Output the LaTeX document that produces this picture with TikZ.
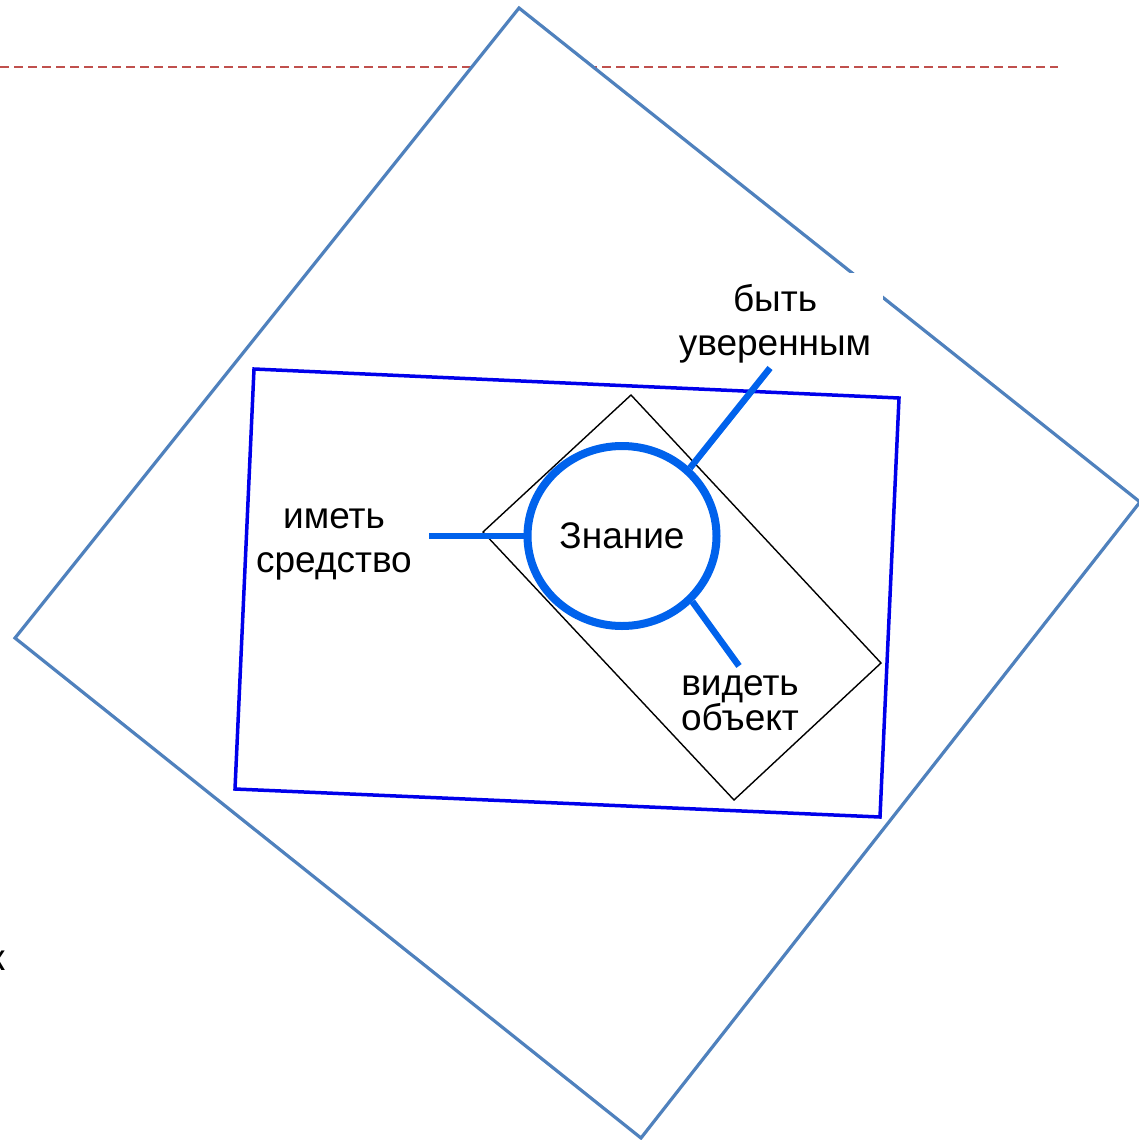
\documentclass[tikz,border=0pt]{standalone}
\usepackage{fontspec}
\setmainfont{Liberation Sans}
\usetikzlibrary{shapes.geometric}
\definecolor{sqblue}{HTML}{4F81BD}
\definecolor{rectblue}{RGB}{0,0,235}
\definecolor{circblue}{RGB}{0,98,236}
\definecolor{dashred}{HTML}{C0504D}
\begin{document}
\begin{tikzpicture}[x=1pt,y=-1pt,
  lbl/.style={align=center, font=\fontsize{37}{44}\selectfont, inner sep=0pt, text=black},
  bigsq/.style={draw=sqblue, line width=3.2pt, fill=white, line join=miter},
  brect/.style={draw=rectblue, line width=3.5pt, line join=miter},
  thinrect/.style={draw=black, line width=1.4pt, line join=miter},
  knot/.style={ellipse, draw=circblue, line width=8pt, fill=white, minimum width=189pt, minimum height=180pt, inner sep=0pt, font=\fontsize{37}{44}\selectfont},
  spoke/.style={draw=circblue, line width=6.5pt},
  guide/.style={draw=dashred, line width=1.5pt, dash pattern=on 8.5pt off 5.5pt}]
\useasboundingbox (0,0) rectangle (1138,1140);
% dashed guide line
\coordinate (dl) at (0,67);
\coordinate (dr) at (1058,67);
\draw[guide] (dl) -- (dr);
% big tilted square
\coordinate (s1) at (519,8);
\coordinate (s2) at (1140,502);
\coordinate (s3) at (641,1138);
\coordinate (s4) at (15,638);
\path[bigsq] (s1) -- (s2) -- (s3) -- (s4) -- cycle;
% blue quadrilateral
\coordinate (r1) at (254,369);
\coordinate (r2) at (899,398);
\coordinate (r3) at (880,817);
\coordinate (r4) at (235,789);
\path[brect] (r1) -- (r2) -- (r3) -- (r4) -- cycle;
% thin black rotated rectangle
\coordinate (t1) at (631,395);
\coordinate (t2) at (881,663);
\coordinate (t3) at (734,800);
\coordinate (t4) at (483,532);
\path[thinrect] (t1) -- (t2) -- (t3) -- (t4) -- cycle;
% central circle
\node[knot] (k) at (622,536) {Знание};
% labels
\node[lbl] (a) at (334,544) {иметь\\средство};
\node[lbl, fill=white, inner sep=12pt] (b) at (775,324) {быть\\уверенным};
\node[lbl, font=\fontsize{37}{35}\selectfont] (c) at (740,703) {видеть\\объект};
\node[lbl, anchor=base east] (d) at (5,970) {к};
% spokes
\coordinate (lft) at (429,536);
\coordinate (ur) at (770,368);
\coordinate (lr) at (739,666);
\draw[spoke] (k.180) -- (lft);
\draw[spoke] (k.45) -- (ur);
\draw[spoke] (k.-43) -- (lr);
\end{tikzpicture}
\end{document}
